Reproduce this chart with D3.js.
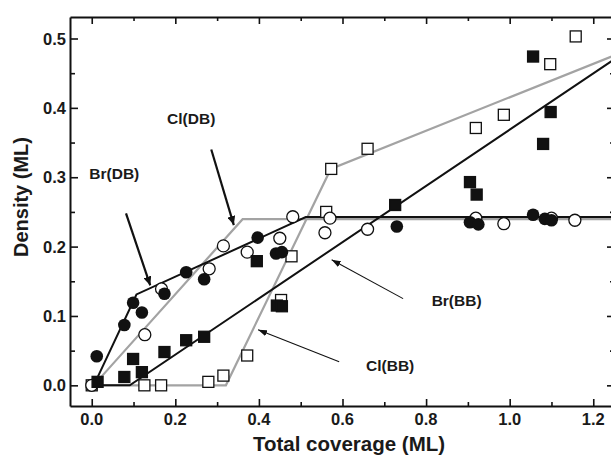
<!DOCTYPE html>
<html lang="en">
<head>
    <meta charset="UTF-8">
    <title>Density vs coverage</title>
    <script src="https://d3js.org/d3.v7.min.js"></script>
    <style>
        body { margin: 0; background: #fff; }
        text { font-family: "Liberation Sans", Arial, sans-serif; font-weight: bold; fill: #1a1a1a; }
    </style>
</head>
<body>
    <div class="canvas"></div>
    <script>
      // marker data (coverage, density)
      const brDB = [[0.012,0.042],[0.078,0.087],[0.099,0.119],[0.120,0.105],[0.174,0.132],
                    [0.226,0.163],[0.269,0.153],[0.397,0.213],[0.441,0.190],[0.455,0.192],
                    [0.730,0.229],[0.905,0.235],[0.925,0.232],[1.056,0.246],[1.084,0.240],[1.100,0.238]];
      const clDB = [[0.0,0.0],[0.127,0.073],[0.167,0.139],[0.281,0.168],[0.315,0.201],
                    [0.372,0.192],[0.450,0.212],[0.481,0.243],[0.558,0.220],[0.570,0.241],
                    [0.660,0.225],[0.919,0.241],[0.986,0.233],[1.100,0.241],[1.156,0.238]];
      const brBB = [[0.014,0.005],[0.078,0.012],[0.099,0.038],[0.120,0.019],[0.174,0.048],
                    [0.226,0.065],[0.269,0.070],[0.395,0.179],[0.443,0.115],[0.455,0.114],
                    [0.726,0.260],[0.905,0.293],[0.921,0.275],[1.056,0.474],[1.080,0.348],[1.098,0.394]];
      const clBB = [[0.0,0.0],[0.126,0.0],[0.166,0.0],[0.279,0.005],[0.315,0.014],
                    [0.372,0.043],[0.453,0.123],[0.478,0.186],[0.561,0.250],[0.573,0.312],
                    [0.660,0.341],[0.919,0.371],[0.986,0.390],[1.097,0.463],[1.158,0.503]];

      // fitted lines
      const brDBLine = [[0.008,0.004],[0.107,0.131],[0.512,0.2425],[1.26,0.2425]];
      const clDBLine = [[0.012,0.005],[0.361,0.2395],[1.26,0.2395]];
      const brBBLine = [[0.015,0.0],[0.091,0.0],[1.26,0.474]];
      const clBBLine = [[0.0,0.0],[0.321,0.0],[0.572,0.312],[1.26,0.478]];

      const xTicks = [0.0, 0.2, 0.4, 0.6, 0.8, 1.0, 1.2];
      const yTicks = [0.0, 0.1, 0.2, 0.3, 0.4, 0.5];

      // annotations: label, text pos, arrow from -> to (data units), heavy arrow?
      const notes = [
        {label: 'Cl(DB)', tx: 0.238, ty: 0.377, from: [0.286, 0.340], to: [0.340, 0.231], heavy: true},
        {label: 'Br(DB)', tx: 0.054, ty: 0.297, from: [0.082, 0.248], to: [0.140, 0.144], heavy: true},
        {label: 'Br(BB)', tx: 0.873, ty: 0.115, from: [0.745, 0.125], to: [0.574, 0.181], heavy: false},
        {label: 'Cl(BB)', tx: 0.714, ty: 0.020, from: [0.592, 0.034], to: [0.398, 0.080], heavy: false}
      ];

      const width = 611, height = 455;
      const [ml, mr, mt, mb] = [70, 615, 17, 406];
      const grey = '#a3a3a3';

      const svg = d3.select('.canvas').append('svg')
                    .attr('width', width).attr('height', height);

      const x = d3.scaleLinear().domain([-0.052, 1.252]).range([ml, mr]);
      const y = d3.scaleLinear().domain([-0.0298, 0.531]).range([mb, mt]);

      const defs = svg.append('defs');
      [['headHeavy', 9, 4], ['headThin', 9, 3.2]].forEach(([id, len, half]) => {
        defs.append('marker').attr('id', id)
            .attr('markerUnits', 'userSpaceOnUse')
            .attr('viewBox', `0 ${-half} ${len} ${2 * half}`)
            .attr('refX', len).attr('refY', 0)
            .attr('markerWidth', len).attr('markerHeight', 2 * half)
            .attr('orient', 'auto')
            .append('path').attr('d', `M0,${-half}L${len},0L0,${half}Z`).attr('fill', '#111');
      });

      // axes (ticks inward)
      const minorX = d3.range(0, 1.25, 0.1);
      const minorY = d3.range(-0.0, 0.53, 0.05);
      const isMajor = (v, step) => Math.abs(v / step - Math.round(v / step)) < 1e-6;

      const axB = svg.append('g').attr('transform', `translate(0,${mb})`)
        .call(d3.axisBottom(x).tickValues(minorX).tickSize(0).tickFormat(''));
      axB.selectAll('.tick line')
        .attr('y2', d => isMajor(d, 0.2) ? -7 : -4);
      const axT = svg.append('g').attr('transform', `translate(0,${mt})`)
        .call(d3.axisTop(x).tickValues(minorX).tickSize(0).tickFormat(''));
      axT.selectAll('.tick line')
        .attr('y2', d => isMajor(d, 0.2) ? 7 : 4);
      const axL = svg.append('g').attr('transform', `translate(${ml},0)`)
        .call(d3.axisLeft(y).tickValues(minorY).tickSize(0).tickFormat(''));
      axL.selectAll('.tick line')
        .attr('x2', d => isMajor(d, 0.1) ? 8 : 5);
      const axR = svg.append('g').attr('transform', `translate(${mr},0)`)
        .call(d3.axisRight(y).tickValues(minorY).tickSize(0).tickFormat(''));
      axR.selectAll('.tick line')
        .attr('x2', d => isMajor(d, 0.1) ? -8 : -5);

      svg.selectAll('.domain').attr('stroke', '#111').attr('stroke-width', 2);
      svg.selectAll('.tick line').attr('stroke', '#111').attr('stroke-width', 1.6);

      // tick labels
      svg.append('g').selectAll('text').data(xTicks).join('text')
        .attr('x', d => x(d)).attr('y', 425)
        .attr('text-anchor', 'middle').attr('font-size', 16.5)
        .text(d => d.toFixed(1));
      svg.append('g').selectAll('text').data(yTicks).join('text')
        .attr('x', 66).attr('y', d => y(d) + 6)
        .attr('text-anchor', 'end').attr('font-size', 16.5)
        .text(d => d.toFixed(1));

      svg.append('text').attr('x', 349).attr('y', 451)
        .attr('text-anchor', 'middle').attr('font-size', 20.5)
        .text('Total coverage (ML)');
      svg.append('text')
        .attr('transform', 'translate(28,197) rotate(-90)')
        .attr('text-anchor', 'middle').attr('font-size', 20)
        .text('Density (ML)');

      // fitted lines
      const line = d3.line().x(d => x(d[0])).y(d => y(d[1]));
      const plot = svg.append('g');
      plot.append('path').attr('d', line(clDBLine)).attr('fill', 'none')
          .attr('stroke', grey).attr('stroke-width', 2.2);
      plot.append('path').attr('d', line(clBBLine)).attr('fill', 'none')
          .attr('stroke', grey).attr('stroke-width', 2.2);
      plot.append('path').attr('d', line(brBBLine)).attr('fill', 'none')
          .attr('stroke', '#111').attr('stroke-width', 2);
      plot.append('path').attr('d', line(brDBLine)).attr('fill', 'none')
          .attr('stroke', '#111').attr('stroke-width', 2);

      // markers
      const sq = 11;
      plot.append('g').selectAll('rect').data(clBB).join('rect')
        .attr('x', d => x(d[0]) - sq / 2).attr('y', d => y(d[1]) - sq / 2)
        .attr('width', sq).attr('height', sq)
        .attr('fill', '#fff').attr('stroke', '#111').attr('stroke-width', 1.3);
      plot.append('g').selectAll('circle').data(clDB).join('circle')
        .attr('cx', d => x(d[0])).attr('cy', d => y(d[1])).attr('r', 6)
        .attr('fill', '#fff').attr('stroke', '#111').attr('stroke-width', 1.3);
      plot.append('g').selectAll('rect').data(brBB).join('rect')
        .attr('x', d => x(d[0]) - sq / 2).attr('y', d => y(d[1]) - sq / 2)
        .attr('width', sq).attr('height', sq)
        .attr('fill', '#111').attr('stroke', '#111').attr('stroke-width', 1.3);
      plot.append('g').selectAll('circle').data(brDB).join('circle')
        .attr('cx', d => x(d[0])).attr('cy', d => y(d[1])).attr('r', 6.3)
        .attr('fill', '#111');

      // annotations
      const ann = svg.append('g');
      notes.forEach(n => {
        ann.append('line')
          .attr('x1', x(n.from[0])).attr('y1', y(n.from[1]))
          .attr('x2', x(n.to[0])).attr('y2', y(n.to[1]))
          .attr('stroke', '#111').attr('stroke-width', n.heavy ? 2.2 : 1.1)
          .attr('marker-end', `url(#${n.heavy ? 'headHeavy' : 'headThin'})`);
        ann.append('text').attr('x', x(n.tx)).attr('y', y(n.ty))
          .attr('text-anchor', 'middle').attr('font-size', 15.5)
          .text(n.label);
      });
    </script>
</body>
</html>
